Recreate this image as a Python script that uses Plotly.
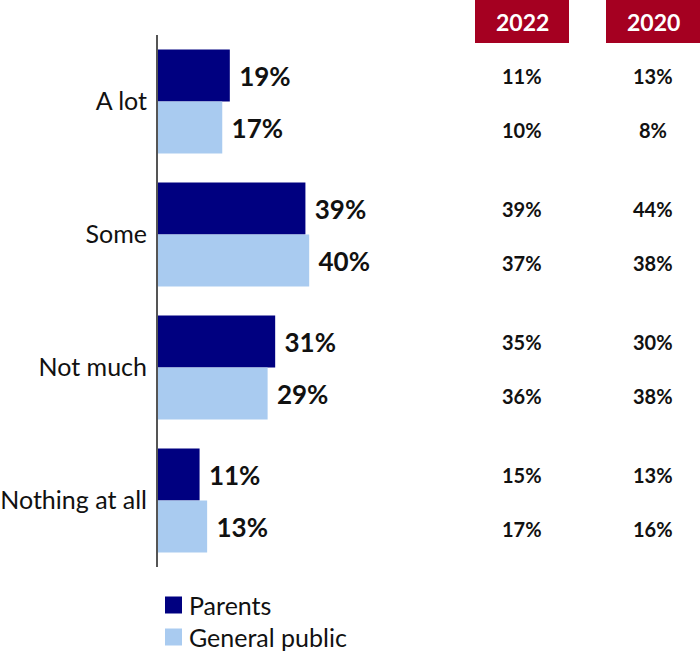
import plotly.graph_objects as go

# Survey responses (%)
categories = ["A lot", "Some", "Not much", "Nothing at all"]
parents = [19, 39, 31, 11]
general_public = [17, 40, 29, 13]

# Earlier waves shown as side columns
years = ["2022", "2020"]
parents_2022 = [11, 39, 35, 15]
public_2022 = [10, 37, 36, 17]
parents_2020 = [13, 44, 30, 13]
public_2020 = [8, 38, 38, 16]

NAVY = "#000080"
LIGHT = "#A9CBF0"
RED = "#A50021"
FONT = "Lato"
INK = "#111111"

W, H = 700, 654
L, R, T, B = 158, 0, 35, 87
px_per_pct = 3.78
x_max = (W - L - R) / px_per_pct

fig = go.Figure()
for name, vals, color in [("Parents", parents, NAVY),
                          ("General public", general_public, LIGHT)]:
    fig.add_trace(go.Bar(
        y=categories, x=vals, name=name, orientation="h",
        marker=dict(color=color, line=dict(width=0)),
        text=[f" {v}%" for v in vals], textposition="outside",
        textfont=dict(family=FONT, size=26, color=INK, weight="bold"),
        cliponaxis=False, showlegend=False,
    ))

annotations = []
shapes = []

ph = H - T - B
def py(pix):
    return (H - B - pix) / ph
def px(pix):
    return (pix - L) / (W - L - R)

# Column headers and values for earlier waves
col_centers_px = [522, 653]
col_data = [(parents_2022, public_2022), (parents_2020, public_2020)]
for yr, cx, (pv, gv) in zip(years, col_centers_px, col_data):
    xd = (cx - L) / px_per_pct
    shapes.append(dict(type="rect", xref="x", yref="paper",
                       x0=xd - 47 / px_per_pct, x1=xd + 47 / px_per_pct,
                       y0=py(43), y1=py(0),
                       fillcolor=RED, line=dict(width=0), layer="above"))
    annotations.append(dict(x=xd, y=py(21.5), xref="x", yref="paper",
                            text=f"<b>{yr}</b>", showarrow=False,
                            font=dict(family=FONT, size=23, color="white"),
                            xanchor="center", yanchor="middle"))
    for cat, a, b in zip(categories, pv, gv):
        annotations.append(dict(x=xd, y=cat, xref="x", yref="y", yshift=25.5,
                                text=f"<b>{a}%</b>", showarrow=False,
                                font=dict(family=FONT, size=20, color=INK),
                                xanchor="center", yanchor="middle"))
        annotations.append(dict(x=xd, y=cat, xref="x", yref="y", yshift=-28.5,
                                text=f"<b>{b}%</b>", showarrow=False,
                                font=dict(family=FONT, size=20, color=INK),
                                xanchor="center", yanchor="middle"))

# Legend drawn below the plot area
for label, color, yc in [("Parents", NAVY, 605), ("General public", LIGHT, 637)]:
    shapes.append(dict(type="rect", xref="paper", yref="paper",
                       x0=px(165), x1=px(182), y0=py(yc + 8.5), y1=py(yc - 8.5),
                       fillcolor=color, line=dict(width=0)))
    annotations.append(dict(x=px(187), y=py(yc), xref="paper", yref="paper",
                            text=label, showarrow=False, xanchor="left", yanchor="middle",
                            font=dict(family=FONT, size=25, color=INK)))

fig.update_layout(
    width=W, height=H,
    margin=dict(l=L, r=R, t=T, b=B),
    barmode="group", bargap=0.218, bargroupgap=0,
    plot_bgcolor="white", paper_bgcolor="white",
    xaxis=dict(range=[0, x_max], visible=False, fixedrange=True),
    yaxis=dict(autorange="reversed", showgrid=False, zeroline=False,
               showline=True, linecolor="#555555", linewidth=2,
               ticks="", ticklabelstandoff=4,
               tickfont=dict(family=FONT, size=25, color=INK)),
    shapes=shapes, annotations=annotations,
    showlegend=False,
)

fig.write_html("out.html")
